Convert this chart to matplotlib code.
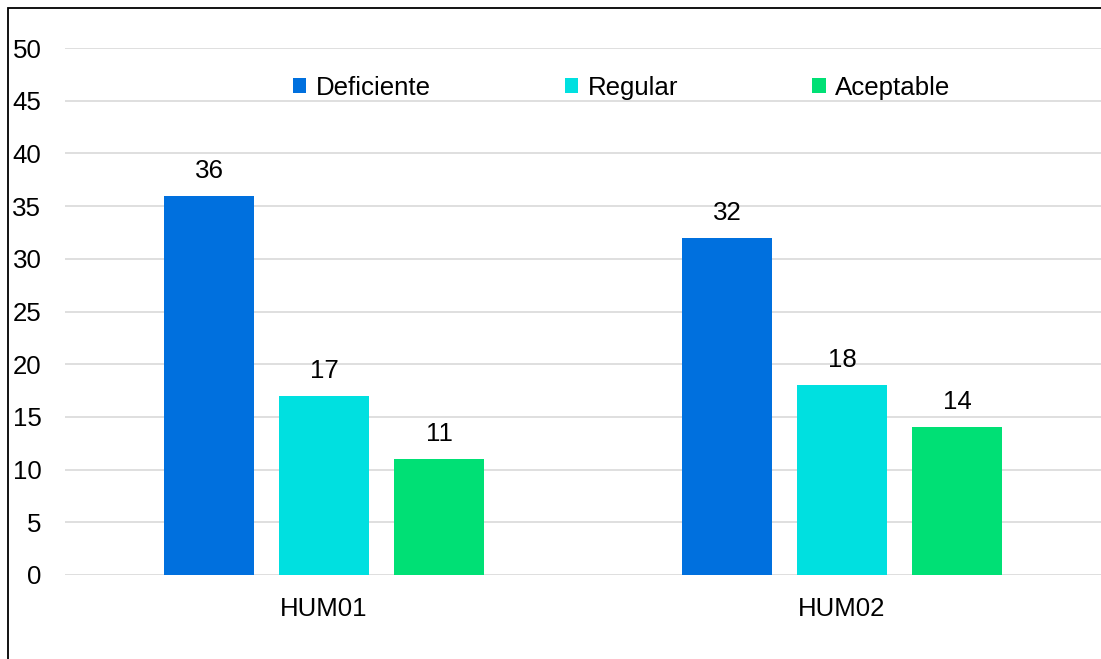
import matplotlib
matplotlib.use('Agg')
import matplotlib.pyplot as plt
from matplotlib.patches import Patch, Rectangle
import numpy as np

plt.rcParams['font.family'] = ['Liberation Sans', 'DejaVu Sans']

categories = ['HUM01', 'HUM02']
series = ['Deficiente', 'Regular', 'Aceptable']
values = {
    'Deficiente': [36, 32],
    'Regular': [17, 18],
    'Aceptable': [11, 14],
}
colors = ['#0070DE', '#00E0E0', '#00E075']
yticks = [0, 5, 10, 15, 20, 25, 30, 35, 40, 45, 50]

W, H = 1101, 659
fs = 18.6
fig = plt.figure(figsize=(W / 100, H / 100), dpi=100)
ax = fig.add_axes([65 / W, 1 - 575 / H, 1 - 65 / W, (575 - 48) / H])

x = np.arange(len(categories))
width = 90 / 518
step = 115 / 518
for i, (name, col) in enumerate(zip(series, colors)):
    pos = x + (i - 1) * step
    bars = ax.bar(pos, values[name], width=width, color=col, zorder=3)
    for b, v in zip(bars, values[name]):
        ax.annotate(str(v), (b.get_x() + b.get_width() / 2, v),
                    xytext=(0, 13), textcoords='offset points',
                    ha='center', va='baseline', fontsize=fs)

ax.set_xlim(-0.5, 1.5)
ax.set_ylim(0, 50)
ax.set_yticks(yticks)
ax.set_xticks(x)
ax.set_xticklabels(categories)
ax.tick_params(axis='both', length=0, labelsize=fs)
ax.tick_params(axis='y', pad=17)
ax.tick_params(axis='x', pad=16)
ax.grid(axis='y', color='#D9D9D9', linewidth=1.2, zorder=0)
ax.set_axisbelow(True)
for s in ax.spines.values():
    s.set_visible(False)

handles = [Patch(facecolor=c, edgecolor='none') for c in colors]
fig.legend(handles, series, loc='center', ncol=3, frameon=False,
           bbox_to_anchor=(621.5 / W, 1 - 88 / H), fontsize=fs,
           handlelength=0.52, handleheight=0.52, handletextpad=0.36,
           columnspacing=5.2, borderpad=0)

# outer frame of the chart (cut off at right and bottom)
fig.patches.append(Rectangle((8 / W, -0.1), 1.2, 1.1 - 8 / H,
                             transform=fig.transFigure, fill=False,
                             edgecolor='black', linewidth=1.3))

fig.savefig('out.png', dpi=100)
